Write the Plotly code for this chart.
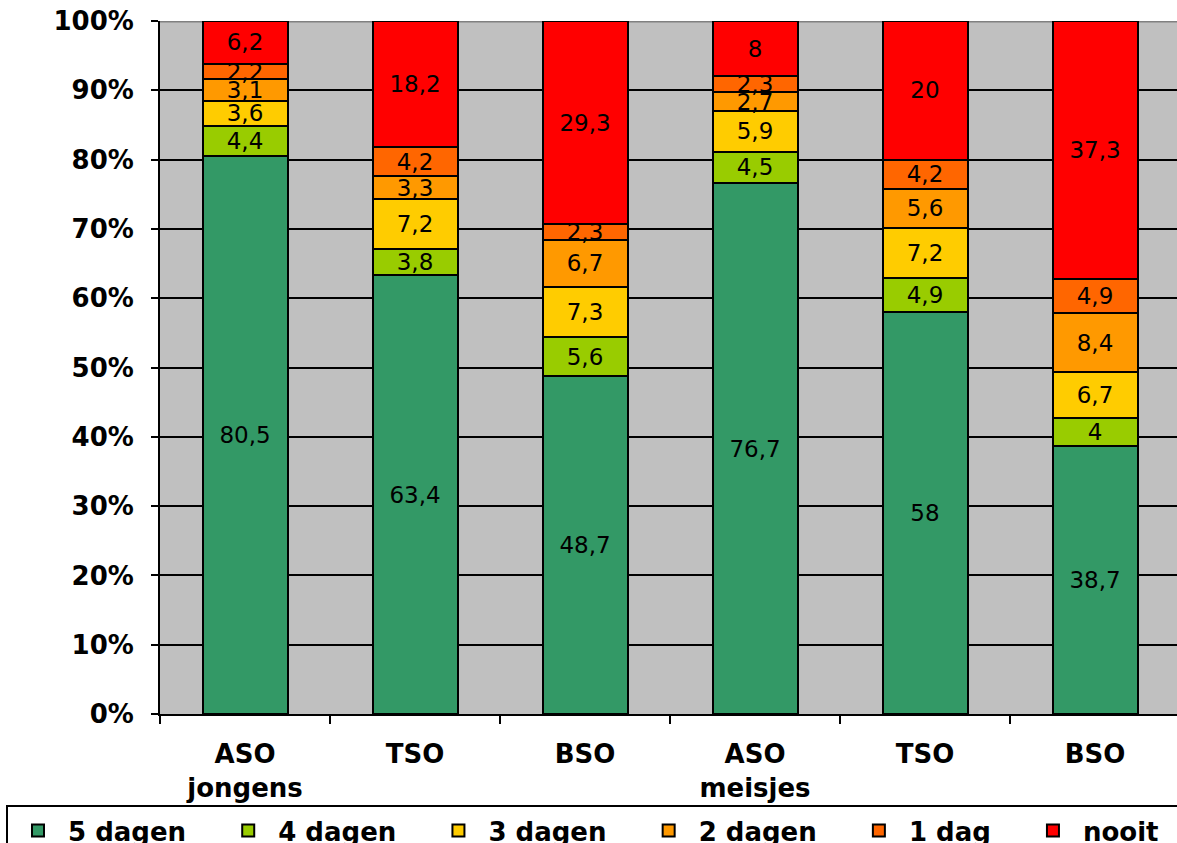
import plotly.graph_objects as go

# Categories (ids are unique, tick texts repeat per group)
cat_ids = ["ASO j", "TSO j", "BSO j", "ASO m", "TSO m", "BSO m"]
cat_labels = ["ASO<br>jongens", "TSO", "BSO", "ASO<br>meisjes", "TSO", "BSO"]

# Share of pupils per frequency (percent)
series_names = ["5 dagen", "4 dagen", "3 dagen", "2 dagen", "1 dag", "nooit"]
vijf_dagen = [80.5, 63.4, 48.7, 76.7, 58, 38.7]
vier_dagen = [4.4, 3.8, 5.6, 4.5, 4.9, 4]
drie_dagen = [3.6, 7.2, 7.3, 5.9, 7.2, 6.7]
twee_dagen = [3.1, 3.3, 6.7, 2.7, 5.6, 8.4]
een_dag = [2.2, 4.2, 2.3, 2.3, 4.2, 4.9]
nooit = [6.2, 18.2, 29.3, 8, 20, 37.3]

series_values = [vijf_dagen, vier_dagen, drie_dagen, twee_dagen, een_dag, nooit]
colors = ["#339966", "#99CC00", "#FFCC00", "#FF9900", "#FF6600", "#FF0000"]

y_ticks = list(range(0, 101, 10))

# non-breaking spaces keep a fixed gap after each legend entry
LEGEND_PAD = "\u00a0" * 3


def fmt(v):
    return f"{v:g}".replace(".", ",")


fig = go.Figure()
for name, vals, col in zip(series_names, series_values, colors):
    fig.add_trace(go.Bar(
        name=name + LEGEND_PAD,
        x=cat_ids,
        y=vals,
        text=[fmt(v) for v in vals],
        textposition="inside",
        insidetextanchor="middle",
        constraintext="none",
        textangle=0,
        insidetextfont=dict(family="DejaVu Sans", size=23, color="black"),
        marker=dict(color=col, line=dict(color="black", width=2)),
        hoverinfo="skip",
    ))

# Top border of the plot area in grey
fig.add_shape(type="line", xref="paper", yref="y", x0=0, x1=1, y0=100, y1=100,
              line=dict(color="#808080", width=3), layer="between")

# The plot area runs on past the right edge of the page, like the legend box
fig_w, fig_h = 1300, 870
m_l, m_t, m_r = 160, 21, 10
plot_h = 693
plot_w = fig_w - m_l - m_r
cat_px = 170

fig.update_layout(
    barmode="stack",
    barnorm="percent",
    bargap=0.5,
    width=fig_w,
    height=fig_h,
    margin=dict(l=m_l, r=m_r, t=m_t, b=fig_h - m_t - plot_h, autoexpand=False),
    paper_bgcolor="white",
    plot_bgcolor="#C0C0C0",
    font=dict(family="DejaVu Sans", color="black"),
    showlegend=True,
    legend=dict(
        orientation="h",
        x=(6 - m_l) / plot_w, xanchor="left",
        y=-(805 - (m_t + plot_h)) / plot_h, yanchor="top",
        bordercolor="black", borderwidth=2,
        bgcolor="white",
        font=dict(family="DejaVu Sans", size=26, color="black", weight="bold"),
        itemwidth=50,
        traceorder="normal",
    ),
    xaxis=dict(
        type="category",
        range=[-0.5, -0.5 + plot_w / cat_px],
        tickvals=cat_ids,
        ticktext=[f"<b>{t}</b>" for t in cat_labels],
        tickson="boundaries",
        ticks="outside", ticklen=8, tickwidth=2, tickcolor="black",
        ticklabelstandoff=16,
        showline=True, linecolor="black", linewidth=2,
        showgrid=False,
        tickfont=dict(family="DejaVu Sans", size=26, color="black"),
    ),
    yaxis=dict(
        range=[0, 100],
        tickvals=y_ticks,
        ticktext=[f"<b>{t}%</b>" for t in y_ticks],
        ticks="outside", ticklen=7, tickwidth=2, tickcolor="black",
        ticklabelstandoff=12,
        showline=True, linecolor="black", linewidth=2,
        showgrid=True, gridcolor="black", gridwidth=2,
        zeroline=False,
        tickfont=dict(family="DejaVu Sans", size=26, color="black"),
    ),
)

fig.write_html("out.html", post_script="document.body.style.overflow='hidden';")
